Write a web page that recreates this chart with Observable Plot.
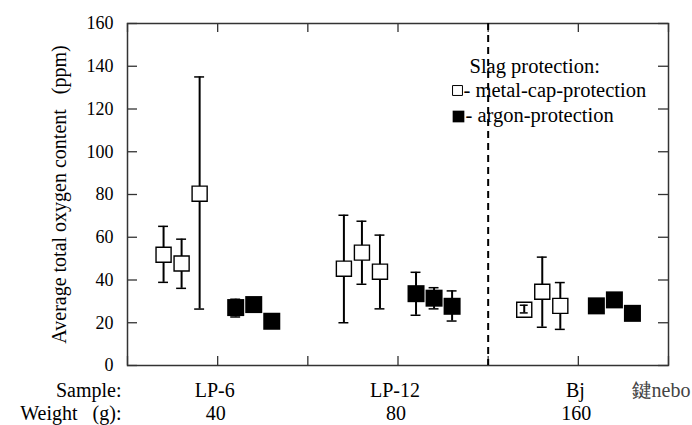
<!DOCTYPE html>
<html>
<head>
<meta charset="utf-8">
<script src="https://cdn.jsdelivr.net/npm/d3@7"></script>
<script src="https://cdn.jsdelivr.net/npm/@observablehq/plot@0.6"></script>
<style>
  html, body { margin: 0; padding: 0; background: #fff; }
  #chart { width: 692px; height: 425px; }
  #chart svg, #chart svg text { font-family: "Liberation Serif", "Times New Roman", serif !important; }
</style>
</head>
<body>
<div id="chart"></div>
<script>
// ---- data ----
const samples = ["LP-6", "LP-12", "Bj"];
const weights = ["40", "80", "160"];
const groupCenters = [1, 3, 5];
const xTicks = [0, 1, 2, 3, 4, 5, 6];
const yTicks = [0, 20, 40, 60, 80, 100, 120, 140, 160];
const dividerX = [4];

// metal-cap-protection (open squares)
const openX    = [0.4, 0.6, 0.8, 2.4, 2.6, 2.8, 4.4, 4.6, 4.8];
const openVal  = [51.8, 47.7, 80.4, 45.3, 52.8, 43.9, 26.1, 34.5, 27.9];
const openLo   = [38.9, 36.1, 26.4, 20.0, 38.0, 26.5, 24.6, 17.9, 16.9];
const openHi   = [65.1, 59.1, 135.0, 70.3, 67.5, 61.0, 28.2, 50.7, 38.8];

// argon-protection (filled squares)
const argonX   = [1.2, 1.4, 1.6, 3.2, 3.4, 3.6, 5.2, 5.4, 5.6];
const argonVal = [27.1, 28.5, 20.7, 33.6, 31.5, 27.7, 27.9, 30.7, 24.4];
const argonLo  = [22.7, null, null, 23.5, 26.5, 20.8, null, null, null];
const argonHi  = [31.0, null, null, 43.6, 36.4, 34.9, null, null, null];

// ---- tables built from the arrays ----
const openData = openX.map((x, i) => ({x, v: openVal[i], lo: openLo[i], hi: openHi[i]}));
const argonData = argonX.map((x, i) => ({x, v: argonVal[i], lo: argonLo[i], hi: argonHi[i]}));
const errData = [...openData, ...argonData].filter(d => d.lo != null && d.hi != null);
const tinyErr = openData.filter(d => d.hi - d.lo < 6);
const groups = samples.map((s, i) => ({x: groupCenters[i], sample: s, weight: weights[i]}));

const serif = "Liberation Serif";
const capHalf = 0.055;

const chart = Plot.plot({
  width: 692,
  height: 425,
  marginLeft: 127,
  marginRight: 24,
  marginTop: 23,
  marginBottom: 60,
  style: {fontFamily: serif, fontSize: "18px", background: "#fff", color: "#000"},
  x: {domain: [0, 6], axis: null},
  y: {domain: [0, 160], axis: null},
  marks: [
    // y tick labels
    Plot.axisY(yTicks, {anchor: "left", tickSize: 0, tickPadding: 14, fontSize: 18, fontFamily: serif, label: null}),
    // inward ticks on all four sides
    Plot.tickY(yTicks, {y: d => d, insetRight: 531, stroke: "#333", strokeWidth: 1.3}),
    Plot.tickY(yTicks, {y: d => d, insetLeft: 531, stroke: "#333", strokeWidth: 1.3}),
    Plot.tickX(xTicks, {x: d => d, insetTop: 333, stroke: "#333", strokeWidth: 1.3}),
    Plot.tickX(xTicks, {x: d => d, insetBottom: 333, stroke: "#333", strokeWidth: 1.3}),
    Plot.frame({stroke: "#333", strokeWidth: 1.5}),
    // dashed divider
    Plot.ruleX(dividerX, {x: d => d, stroke: "#000", strokeWidth: 2, strokeDasharray: "7,5"}),
    // error bars
    Plot.ruleX(errData, {x: "x", y1: "lo", y2: "hi", stroke: "#000", strokeWidth: 2}),
    Plot.ruleY(errData, {y: "hi", x1: d => d.x - capHalf, x2: d => d.x + capHalf, stroke: "#000", strokeWidth: 1.5}),
    Plot.ruleY(errData, {y: "lo", x1: d => d.x - capHalf, x2: d => d.x + capHalf, stroke: "#000", strokeWidth: 1.5}),
    // points
    Plot.dot(openData, {x: "x", y: "v", symbol: "square", r: 8.5, fill: "#fff", stroke: "#000", strokeWidth: 1.4}),
    Plot.dot(argonData, {x: "x", y: "v", symbol: "square", r: 9.6, fill: "#000", stroke: "none"}),
    // very short error bars remain visible inside their squares
    Plot.ruleX(tinyErr, {x: "x", y1: "lo", y2: "hi", stroke: "#000", strokeWidth: 2}),
    Plot.ruleY(tinyErr, {y: "hi", x1: d => d.x - capHalf * 0.8, x2: d => d.x + capHalf * 0.8, stroke: "#000", strokeWidth: 1.5}),
    Plot.ruleY(tinyErr, {y: "lo", x1: d => d.x - capHalf * 0.8, x2: d => d.x + capHalf * 0.8, stroke: "#000", strokeWidth: 1.5}),
    // y axis title
    Plot.text(["Average total oxygen content   (ppm)"], {
      frameAnchor: "left", rotate: -90, textAnchor: "middle", lineAnchor: "middle", dx: -68, dy: 0, fontSize: 20, fontFamily: serif, text: d => d, fill: "#000"
    }),
    // legend
    Plot.text(["Slag protection:"], {frameAnchor: "top-left", lineAnchor: "middle", dx: 342, dy: 43, textAnchor: "start", fontSize: 20.5, fontFamily: serif, text: d => d}),
    Plot.dot([0], {frameAnchor: "top-left", dx: 330, dy: 67, symbol: "square", r: 5.6, fill: "#fff", stroke: "#000", strokeWidth: 1}),
    Plot.text(["- metal-cap-protection"], {frameAnchor: "top-left", lineAnchor: "middle", dx: 336, dy: 67, textAnchor: "start", fontSize: 20.5, fontFamily: serif, text: d => d}),
    Plot.dot([0], {frameAnchor: "top-left", dx: 331, dy: 93, symbol: "square", r: 6.6, fill: "#000"}),
    Plot.text(["- argon-protection"], {frameAnchor: "top-left", lineAnchor: "middle", dx: 338, dy: 92, textAnchor: "start", fontSize: 20.5, fontFamily: serif, text: d => d}),
    // bottom rows
    Plot.text(["Sample:"], {frameAnchor: "bottom-left", dx: -6, dy: 31, textAnchor: "end", fontSize: 20, fontFamily: serif, text: d => d}),
    Plot.text(["Weight   (g):"], {frameAnchor: "bottom-left", dx: -6, dy: 54, textAnchor: "end", fontSize: 20, fontFamily: serif, text: d => d}),
    Plot.text(groups, {x: "x", frameAnchor: "bottom", dy: 31, dx: -3, text: "sample", fontSize: 20, fontFamily: serif}),
    Plot.text(groups, {x: "x", frameAnchor: "bottom", dy: 54, dx: -2, text: "weight", fontSize: 20, fontFamily: serif}),
    Plot.text(["鍵nebo"], {frameAnchor: "bottom-right", dx: 22, dy: 31, textAnchor: "end", fontSize: 20, fontFamily: serif, text: d => d, fill: "#444"})
  ]
});
document.getElementById("chart").appendChild(chart);
</script>
</body>
</html>
